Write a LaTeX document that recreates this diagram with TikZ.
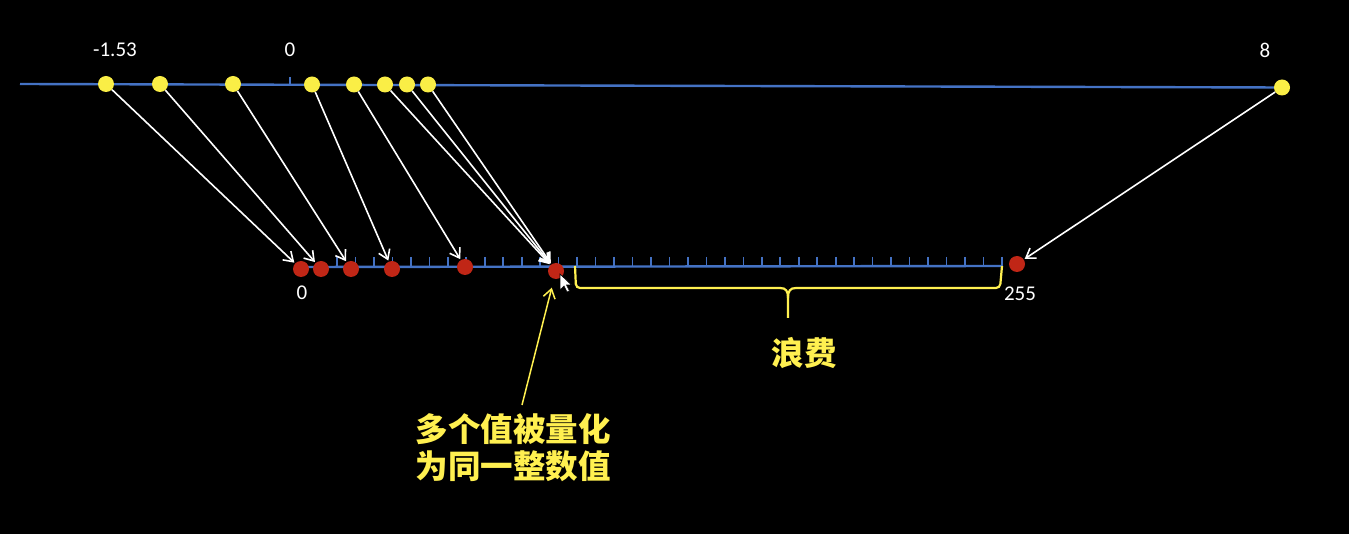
\documentclass[tikz,border=0pt]{standalone}
\usepackage{fontspec}
\setmainfont{Carlito}
\newfontfamily\cjk{Noto Sans CJK SC}
\usetikzlibrary{arrows.meta}
\definecolor{axisblue}{RGB}{68,114,196}
\definecolor{dotyellow}{RGB}{250,238,70}
\definecolor{dotred}{RGB}{192,38,22}
\definecolor{txtyellow}{RGB}{255,240,80}
\tikzset{
 axisline/.style={draw=axisblue,line width=2.4pt},
 ticka/.style={draw=axisblue,line width=1.6pt},
 ydot/.style={circle,fill=dotyellow,minimum size=16pt,inner sep=0pt},
 rdot/.style={circle,fill=dotred,minimum size=16pt,inner sep=0pt},
 maparrow/.style={draw=white,line width=1.6pt,-{Straight Barb[length=9pt,width=12pt]},shorten >=1pt},
 numlabel/.style={text=white,font=\fontsize{21}{25}\selectfont},
 cjklabel/.style={text=txtyellow,font=\cjk\bfseries\fontsize{32.5}{37}\selectfont},
 bracepath/.style={draw=txtyellow,line width=2.2pt},
}
\begin{document}
\begin{tikzpicture}[x=1pt,y=-1pt]
\useasboundingbox[fill=black] (0,0) rectangle (1349,534);
% top axis
\coordinate (tl) at (20,84);
\coordinate (tr) at (1282,87.5);
\draw[axisline] (tl) -- (tr);
\draw[ticka] (290,77) -- (290,84);
\node[numlabel] (lm) at (115,50) {-1.53};
\node[numlabel] (l0) at (290,50) {0};
\node[numlabel] (l8) at (1265,50) {8};
\node[ydot] (y1) at (106,84) {};
\node[ydot] (y2) at (160,84) {};
\node[ydot] (y3) at (233,84) {};
\node[ydot] (y4) at (312,84.5) {};
\node[ydot] (y5) at (354,84.5) {};
\node[ydot] (y6) at (385,84.5) {};
\node[ydot] (y7) at (407,84.5) {};
\node[ydot] (y8) at (428,84.5) {};
\node[ydot] (y9) at (1282,87.5) {};
% bottom axis
\coordinate (bl) at (301,267);
\coordinate (br) at (1002,266);
\draw[axisline] (bl) -- (br);
\foreach \i in {0,...,36} \draw[ticka] (337+\i*18.47,257) -- ++(0,9);
\node[rdot] (r1) at (301,269) {};
\node[rdot] (r2) at (321,269) {};
\node[rdot] (r3) at (351,269) {};
\node[rdot] (r4) at (392,269) {};
\node[rdot] (r5) at (465,267) {};
\node[rdot] (r6) at (556,271) {};
\node[rdot] (r7) at (1017,264) {};
\node[numlabel] (b0) at (302,293) {0};
\node[numlabel] (b255) at (1020,294) {255};
% mapping arrows
\draw[maparrow] (y1) -- (r1);
\draw[maparrow] (y2) -- (r2);
\draw[maparrow] (y3) -- (r3);
\draw[maparrow] (y4) -- (r4);
\draw[maparrow] (y5) -- (r5);
\draw[maparrow] (y6) -- (r6);
\draw[maparrow] (y7) -- (r6);
\draw[maparrow] (y8) -- (r6);
\draw[maparrow] (y9) -- (r7);
% cursor
\draw[fill=white,draw=black,line width=0.6pt] (560,274) -- (560,290) -- (564,286) -- (567,292) -- (569.5,291) -- (566.5,285) -- (571.5,285) -- cycle;
% brace
\draw[bracepath,rounded corners=4pt] (575,266) -- (576,288) -- (780,288);
\draw[bracepath] (780,288) .. controls (786,288) and (788,291) .. (788,298) -- (788,318);
\draw[bracepath,rounded corners=4pt] (1002,266) -- (1000,288) -- (796,288);
\draw[bracepath] (796,288) .. controls (790,288) and (788,291) .. (788,298);
\node[cjklabel] (waste) at (804,353) {浪费};
% note
\node[cjklabel,align=center] (note) at (513,448) {多个值被量化\\为同一整数值};
\coordinate (ya) at (522,405);
\draw[draw=txtyellow,line width=1.5pt,-{Straight Barb[length=9pt,width=12pt]},shorten >=9pt] (ya) -- (r6);
\end{tikzpicture}
\end{document}
